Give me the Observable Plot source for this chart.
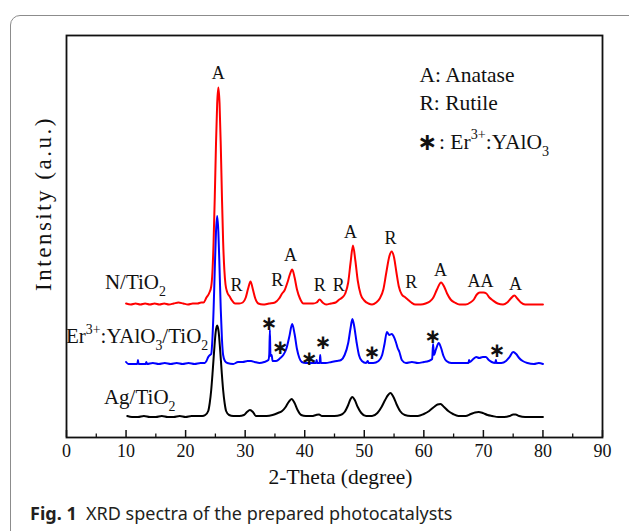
<!DOCTYPE html>
<html><head><meta charset="utf-8">
<script src="https://cdn.jsdelivr.net/npm/d3@7"></script>
<script src="https://cdn.jsdelivr.net/npm/@observablehq/plot@0.6"></script>
<style>
body{margin:0;background:#fff;width:629px;height:531px;overflow:hidden;position:relative;font-family:"Liberation Serif",serif}
#border{position:absolute;left:10px;top:15px;width:660px;height:530px;border:1.5px solid #8c8c8c;border-radius:10px;box-sizing:border-box}
#chart{position:absolute;left:0;top:0}
#caption{position:absolute;left:30px;top:501px;font-family:"Noto Sans",sans-serif;font-size:18px;color:#231f20;white-space:nowrap}
</style></head><body>
<div id="border"></div>
<div id="chart"></div>
<div id="caption"><b>Fig. 1</b>&nbsp; XRD spectra of the prepared photocatalysts</div>
<script>
// ---- data ----
const xTicks = [0,10,20,30,40,50,60,70,80,90];
const xMinorTicks = [5,15,25,35,45,55,65,75,85];

const seriesNames = ["N/TiO_2", "Er^{3+}:YAlO_3/TiO_2", "Ag/TiO_2"];
const seriesColors = ["#ff0000", "#0000ff", "#000000"];
const seriesOffsets = [133, 73.5, 20.5];
// label anchor (end of text) per series: [2-theta, displayed intensity]
const seriesLabelPos = [[16.7, 155.5], [23.8, 101], [18.3, 40]];

// [2-theta, relative intensity (a.u.)]
const nTiO2 = [
[10.0,1],[10.8,0],[11.6,1],[12.4,0],[13.2,1],[14.0,0],[14.8,1],[15.6,0],[16.4,1],[17.2,0],[18.0,1],[18.8,2],[19.6,1],[20.4,0],[21.2,1],[22.0,1],[22.6,2],[23.0,2],[23.5,7],[24.0,12],[24.3,18],[24.5,32],[24.7,63],[24.9,108],[25.1,160],[25.3,201],[25.5,217],[25.7,201],[25.9,160],[26.1,108],[26.3,63],[26.5,35],[26.7,20],[27.0,12],[27.4,8],[27.8,4],[28.3,1],[29.0,1],[29.6,2],[30.1,7],[30.5,16],[30.9,23],[31.3,15],[31.7,6],[32.2,1],[33.0,0],[34.0,1],[35.0,2],[35.7,6],[36.2,11],[36.6,14],[37.1,22],[37.5,30],[37.9,35],[38.3,27],[38.7,15],[39.2,6],[39.8,1],[40.6,1],[41.4,1],[42.0,2],[42.5,5],[43.0,2],[43.6,0],[44.4,1],[45.2,2],[45.8,5],[46.3,7],[46.8,11],[47.3,22],[47.7,42],[48.1,59],[48.5,44],[48.9,24],[49.4,10],[50.0,4],[50.7,1],[51.3,0],[52.0,2],[52.6,6],[53.2,15],[53.7,32],[54.2,48],[54.6,53],[55.0,47],[55.4,32],[55.8,18],[56.3,10],[56.9,7],[57.3,5],[57.9,2],[58.6,0],[59.5,0],[60.3,1],[61.0,3],[61.6,7],[62.2,15],[62.9,22],[63.4,18],[63.9,11],[64.5,5],[65.2,2],[66.0,0],[67.0,0],[67.8,2],[68.4,5],[68.9,10],[69.4,12],[70.0,12],[70.5,11],[71.0,7],[71.6,4],[72.4,1],[73.3,0],[74.0,2],[74.6,6],[75.2,9],[75.7,6],[76.3,2],[77.0,0],[78.0,0],[79.0,0],[80.0,0]
];
const erTiO2 = [
[10.0,2],[10.4,0],[11.2,0],[11.9,0],[12.0,4],[12.1,0],[13.3,0],[13.4,2],[13.5,0],[14.5,1],[15.5,0],[16.5,1],[17.5,0],[18.5,1],[19.5,0],[20.5,1],[21.5,0],[22.5,1],[23.2,1],[23.5,3],[23.8,7],[24.1,9],[24.3,10],[24.5,25],[24.7,55],[24.9,95],[25.1,132],[25.3,148],[25.5,132],[25.7,95],[25.9,55],[26.1,25],[26.3,9],[26.6,3],[27.0,1],[28.0,0],[28.8,2],[29.6,2],[30.4,3],[31.0,3],[31.6,2],[32.4,1],[33.2,2],[33.9,4],[34.05,10],[34.15,34],[34.25,8],[34.45,9],[34.6,3],[35.2,3],[35.9,6],[36.4,9],[36.9,15],[37.4,27],[37.9,40],[38.3,30],[38.7,15],[39.1,6],[39.5,2],[40.2,1],[41.0,1],[41.9,1],[42.0,4],[42.1,1],[42.5,1],[42.6,9],[42.7,1],[43.5,1],[44.5,2],[45.4,3],[46.1,4],[46.7,9],[47.3,21],[47.7,36],[48.0,45],[48.3,38],[48.7,22],[49.1,9],[49.6,3],[50.3,1],[50.6,3],[50.7,1],[51.5,1],[52.4,3],[53.0,9],[53.4,20],[53.8,32],[54.2,29],[54.6,30],[54.9,28],[55.3,22],[55.6,16],[55.9,12],[56.3,4],[57.0,1],[58.0,2],[59.0,1],[60.0,2],[60.8,3],[61.4,5],[61.55,20],[61.7,9],[62.0,14],[62.5,21],[62.9,16],[63.3,8],[63.8,3],[64.6,1],[65.6,1],[66.6,1],[67.5,1],[67.6,4],[67.7,2],[68.3,5],[68.8,7],[69.3,6],[69.9,7],[70.4,7],[70.9,4],[71.4,2],[72.0,1],[72.1,4],[72.2,1],[73.0,1],[73.8,3],[74.4,7],[75.0,12],[75.5,10],[76.0,6],[76.6,3],[77.4,1],[78.5,0],[79.3,1],[80.0,0]
];
const agTiO2 = [
[10.2,1],[11.0,0],[12.0,0],[13.0,1],[14.0,0],[15.0,0],[16.0,1],[17.0,0],[18.0,0],[19.0,1],[20.0,0],[21.0,1],[22.0,1],[22.8,1],[23.3,2],[23.8,6],[24.05,14],[24.3,27],[24.55,46],[24.8,67],[25.05,85],[25.3,91.5],[25.55,85],[25.8,67],[26.05,46],[26.3,27],[26.55,14],[26.8,6],[27.3,2],[28.0,1],[29.0,1],[29.8,2],[30.3,5],[30.8,7],[31.3,5],[31.8,1],[32.6,1],[33.6,1],[34.6,2],[35.5,4],[36.2,6],[36.8,10],[37.3,15],[37.8,18],[38.3,14],[38.8,7],[39.4,2],[40.2,1],[41.2,1],[41.9,2],[42.4,2.5],[42.9,1],[44.0,1],[45.0,1],[46.0,2],[46.7,5],[47.3,12],[47.7,18],[48.0,20],[48.4,17],[48.9,10],[49.5,4],[50.3,1],[51.3,1],[52.2,4],[52.9,10],[53.5,17],[54.0,22],[54.4,24],[54.9,20],[55.4,13],[56.0,6],[56.8,2],[57.8,1],[59.0,1],[60.0,3],[60.9,6],[61.7,10],[62.3,12.5],[62.8,13],[63.4,10],[64.1,6],[64.9,3],[65.8,1],[67.0,1],[67.9,3],[68.6,4.5],[69.2,5],[69.9,4],[70.7,2],[71.5,1],[72.5,0],[73.5,0],[74.4,1],[75.0,2.5],[75.4,2.5],[76.0,1],[77.0,0],[78.0,0],[79.0,0],[80.0,0]
];
const seriesData = [nTiO2, erTiO2, agTiO2];

// phase labels on N/TiO2: [2-theta, displayed intensity, text]
const phaseLabels = [
[25.47,364.3,"A"],[28.54,152,"R"],[35.38,157,"R"],[37.61,182,"A"],[42.53,152,"R"],[45.72,152,"R"],
[47.68,205.3,"A"],[54.4,199.7,"R"],[57.87,155.3,"R"],[62.79,167,"A"],[69.51,156,"AA"],[75.39,153.7,"A"]
];
// Er3+:YAlO3 reflections marked on the blue trace
const starLabels = [[34.03,113.7],[35.93,89.7],[40.8,79],[43.1,95],[51.33,84.7],[61.5,101],[72.31,87]];

const legendLines = [[59.27,362,"A: Anatase"],[59.27,334,"R: Rutile"],[62.55,295,": Er^{3+}:YAlO_3"]];
const legendStar = [[60.54,295]];

// ---- build ----
const rows = seriesData.flatMap((arr, i) => arr.map(([t, v]) => ({t, y: v + seriesOffsets[i], s: seriesNames[i]})));
const seriesLabelRows = seriesNames.map((n, i) => ({x: seriesLabelPos[i][0], y: seriesLabelPos[i][1], text: n}));

const serif = "Liberation Serif";
const chart = Plot.plot({
  width: 629, height: 500,
  marginLeft: 66, marginRight: 27, marginTop: 35, marginBottom: 63,
  style: {fontFamily: serif, background: "transparent", overflow: "visible"},
  x: {domain: [0, 90]},
  y: {domain: [0, 402], axis: null},
  color: {domain: seriesNames, range: seriesColors},
  marks: [
    Plot.line(rows, {x: "t", y: "y", z: "s", stroke: "s", strokeWidth: 2, curve: "monotone-x"}),
    Plot.frame({stroke: "#111", strokeWidth: 1.8}),
    Plot.tickX(xTicks, {x: d => d, insetTop: 395, stroke: "#111", strokeWidth: 1.5}),
    Plot.tickX(xMinorTicks, {x: d => d, insetTop: 398.5, stroke: "#111", strokeWidth: 1.3}),
    Plot.axisX({ticks: xTicks, tickSize: 0, tickPadding: 7, fontSize: 18, fill: "#111", label: null}),
    Plot.text(["2-Theta (degree)"], {frameAnchor: "bottom", textAnchor: "middle", dx: 6, dy: 46, fontSize: 21.5, fill: "#111"}),
    Plot.text(["Intensity (a.u.)"], {frameAnchor: "left", textAnchor: "middle", rotate: -90, dx: -23, dy: -33, fontSize: 23, fill: "#111"}),
    Plot.text(phaseLabels, {x: d => d[0], y: d => d[1], text: d => d[2], fontSize: 18, fill: "#111"}),
    Plot.text(starLabels, {x: d => d[0], y: d => d[1], text: () => "\u2217", fontSize: 20, fontWeight: "bold", fontFamily: "DejaVu Sans", fill: "#111"}),
    Plot.text(seriesLabelRows, {x: "x", y: "y", text: "text", textAnchor: "end", fontSize: 21, fill: "#111"}),
    Plot.text(legendLines, {x: d => d[0], y: d => d[1], text: d => d[2], textAnchor: "start", fontSize: 21.5, fill: "#111"}),
    Plot.text(legendStar, {x: d => d[0], y: d => d[1], text: () => "\u2217", fontSize: 24, fontWeight: "bold", fontFamily: "DejaVu Sans", fill: "#111"})
  ]
});
document.getElementById("chart").appendChild(chart);

// letter spacing for the y-axis title
d3.select(chart).selectAll("text").filter(function() { return this.textContent === "Intensity (a.u.)"; })
  .style("letter-spacing", "2.5px");

// render _x / ^{..} markup as sub/superscripts
d3.select(chart).selectAll("text").each(function() {
  const s = this.textContent;
  if (!/[\^_]/.test(s)) return;
  const fs = parseFloat(getComputedStyle(this).fontSize) || 20;
  const parts = s.split(/(\^\{[^}]*\}|_\{[^}]*\}|_.|\^.)/).filter(p => p);
  this.textContent = "";
  const sel = d3.select(this);
  for (const p of parts) {
    if (p[0] === "^") {
      sel.append("tspan").attr("font-size", (fs * 0.66) + "px").attr("baseline-shift", (fs * 0.45) + "px")
        .text(p.replace(/^\^\{?/, "").replace(/\}$/, ""));
    } else if (p[0] === "_") {
      sel.append("tspan").attr("font-size", (fs * 0.66) + "px").attr("baseline-shift", (-fs * 0.32) + "px")
        .text(p.replace(/^_\{?/, "").replace(/\}$/, ""));
    } else {
      sel.append("tspan").text(p);
    }
  }
});
</script></body></html>
